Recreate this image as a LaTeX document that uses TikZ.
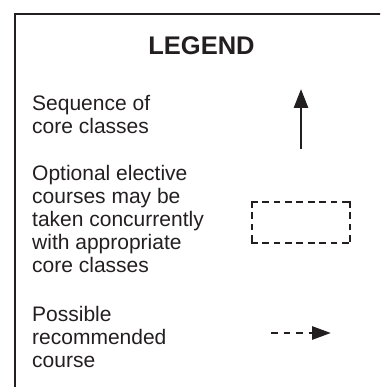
\documentclass[tikz,border=0pt]{standalone}
\usepackage{fontspec}
\setmainfont{Liberation Sans}
\usetikzlibrary{arrows.meta}
\definecolor{ink}{HTML}{231F20}
\begin{document}
\begin{tikzpicture}[x=1pt,y=-1pt,
  frame/.style={draw=ink, line width=2.3pt, inner sep=0pt, outer sep=0pt, anchor=north west, minimum width=420pt, minimum height=420pt},
  title/.style={anchor=base, inner sep=0pt, text=ink, font=\fontsize{25.5}{30}\selectfont\bfseries},
  txt/.style={anchor=north west, inner sep=0pt, align=left, text=ink, font=\fontsize{21}{23}\selectfont},
  seqarrow/.style={draw=ink, line width=2.8pt, -{Triangle[length=19pt,width=14pt]}},
  boxshape/.style={inner sep=0pt, outer sep=0pt, minimum width=98pt, minimum height=41pt},
  boxside/.style={draw=ink, line width=2.5pt, line cap=rect, dash pattern=on 4.3pt off 7.1pt},
  recarrow/.style={draw=ink, line width=2.8pt, dash pattern=on 6.7pt off 5.8pt, -{Triangle[length=19pt,width=13pt]}}
]
\useasboundingbox (0,0) rectangle (380,387);
\clip (0,0) rectangle (380,387);
\node[frame] (frame) at (15,14) {};
\node[title] (legend) at (201.5,55) {LEGEND};
\node[txt] (seq) at (32,94.7) {Sequence of\\core classes};
\node[txt] (opt) at (32,164.7) {Optional elective\\courses may be\\taken concurrently\\with appropriate\\core classes};
\node[txt] (pos) at (32,305.7) {Possible\\recommended\\course};
\coordinate (upS) at (301,149);
\coordinate (upE) at (301,89);
\draw[seqarrow] (upS) -- (upE);
\node[boxshape] (dbox) at (301,222.5) {};
\draw[boxside] (dbox.north west) -- (dbox.north east);
\draw[boxside] (dbox.south west) -- (dbox.south east);
\draw[boxside] (dbox.north west) -- (dbox.south west);
\draw[boxside] (dbox.north east) -- (dbox.south east);
\coordinate (rS) at (271,333);
\coordinate (rE) at (331,333);
\draw[recarrow] (rS) -- (rE);
\end{tikzpicture}
\end{document}
